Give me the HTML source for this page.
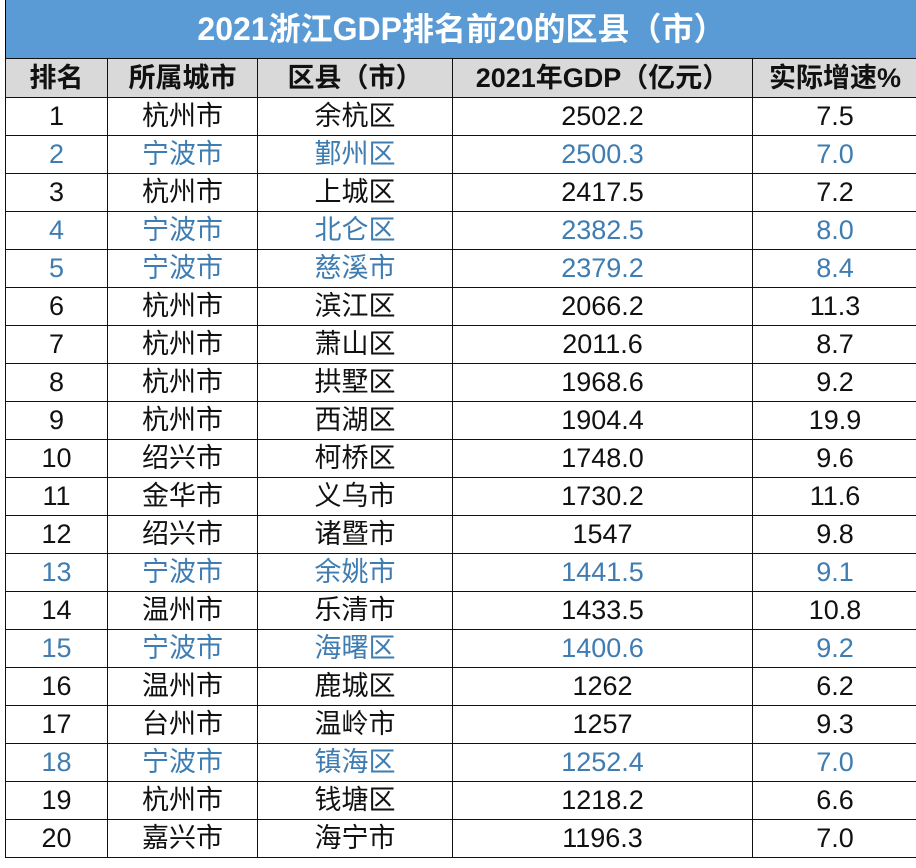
<!DOCTYPE html>
<html><head><meta charset="utf-8"><style>
body{margin:0;background:#fff;width:916px;height:868px;overflow:hidden;font-family:"Liberation Sans","Noto Sans CJK SC",sans-serif;}
.title{position:absolute;left:5px;top:0;width:911px;height:58px;background:#5b9bd5;color:#fff;font-weight:bold;font-size:32px;line-height:58px;text-align:center;border-left:1px solid #000;}
table{position:absolute;left:5px;top:58px;border-collapse:collapse;width:912px;table-layout:fixed;}
td,th{border:1.5px solid #111;text-align:center;padding:0;height:37px;font-size:27px;line-height:37px;color:#111;white-space:nowrap;overflow:hidden;}
th{background:#d9d9d9;font-size:27px;font-weight:bold;height:38px;}
tr.b td{color:#3e7cb1;}
</style></head><body>
<div class="title">2021浙江GDP排名前20的区县（市）</div>
<table>
<colgroup><col style="width:102px"><col style="width:150px"><col style="width:195px"><col style="width:300px"><col style="width:165px"></colgroup>
<tr><th>排名</th><th>所属城市</th><th>区县（市）</th><th>2021年GDP（亿元）</th><th>实际增速%</th></tr>
<tr><td>1</td><td>杭州市</td><td>余杭区</td><td>2502.2</td><td>7.5</td></tr>
<tr class="b"><td>2</td><td>宁波市</td><td>鄞州区</td><td>2500.3</td><td>7.0</td></tr>
<tr><td>3</td><td>杭州市</td><td>上城区</td><td>2417.5</td><td>7.2</td></tr>
<tr class="b"><td>4</td><td>宁波市</td><td>北仑区</td><td>2382.5</td><td>8.0</td></tr>
<tr class="b"><td>5</td><td>宁波市</td><td>慈溪市</td><td>2379.2</td><td>8.4</td></tr>
<tr><td>6</td><td>杭州市</td><td>滨江区</td><td>2066.2</td><td>11.3</td></tr>
<tr><td>7</td><td>杭州市</td><td>萧山区</td><td>2011.6</td><td>8.7</td></tr>
<tr><td>8</td><td>杭州市</td><td>拱墅区</td><td>1968.6</td><td>9.2</td></tr>
<tr><td>9</td><td>杭州市</td><td>西湖区</td><td>1904.4</td><td>19.9</td></tr>
<tr><td>10</td><td>绍兴市</td><td>柯桥区</td><td>1748.0</td><td>9.6</td></tr>
<tr><td>11</td><td>金华市</td><td>义乌市</td><td>1730.2</td><td>11.6</td></tr>
<tr><td>12</td><td>绍兴市</td><td>诸暨市</td><td>1547</td><td>9.8</td></tr>
<tr class="b"><td>13</td><td>宁波市</td><td>余姚市</td><td>1441.5</td><td>9.1</td></tr>
<tr><td>14</td><td>温州市</td><td>乐清市</td><td>1433.5</td><td>10.8</td></tr>
<tr class="b"><td>15</td><td>宁波市</td><td>海曙区</td><td>1400.6</td><td>9.2</td></tr>
<tr><td>16</td><td>温州市</td><td>鹿城区</td><td>1262</td><td>6.2</td></tr>
<tr><td>17</td><td>台州市</td><td>温岭市</td><td>1257</td><td>9.3</td></tr>
<tr class="b"><td>18</td><td>宁波市</td><td>镇海区</td><td>1252.4</td><td>7.0</td></tr>
<tr><td>19</td><td>杭州市</td><td>钱塘区</td><td>1218.2</td><td>6.6</td></tr>
<tr><td>20</td><td>嘉兴市</td><td>海宁市</td><td>1196.3</td><td>7.0</td></tr>
</table>
</body></html>
